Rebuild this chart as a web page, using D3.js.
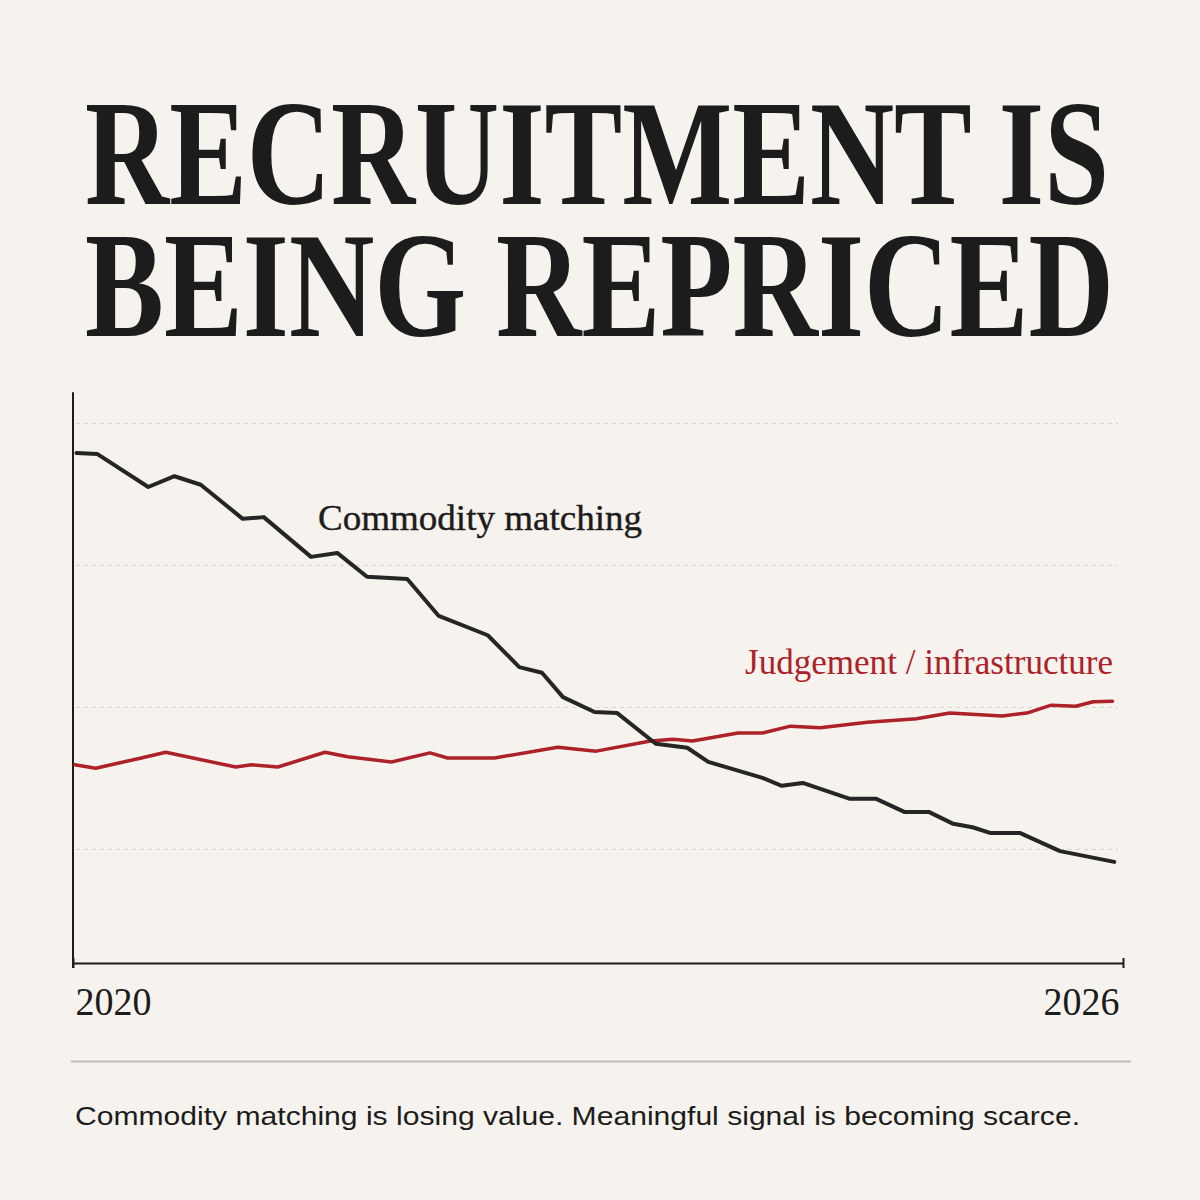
<!DOCTYPE html>
<html>
<head>
<meta charset="utf-8">
<script src="https://cdn.jsdelivr.net/npm/d3@7"></script>
<style>
  html, body { margin: 0; padding: 0; background: #f6f3ee; }
</style>
</head>
<body>
<div id="chart"></div>
<script>
// data (year, index value)
const commodityYears = [2020.02, 2020.14, 2020.43, 2020.58, 2020.73, 2020.97, 2021.09, 2021.36, 2021.51, 2021.68, 2021.91,
  2022.09, 2022.37, 2022.55, 2022.68, 2022.80, 2022.98, 2023.11, 2023.33, 2023.51, 2023.63, 2023.94, 2024.05, 2024.17,
  2024.44, 2024.59, 2024.75, 2024.89, 2025.03, 2025.14, 2025.24, 2025.41, 2025.64, 2025.95];
const commodityValues = [89.8, 89.6, 83.8, 85.7, 84.2, 78.2, 78.5, 71.5, 72.2, 68.0, 67.6,
  61.1, 57.7, 52.1, 51.1, 46.8, 44.2, 44.0, 38.6, 37.9, 35.4, 32.6, 31.2, 31.7,
  28.9, 28.9, 26.6, 26.6, 24.5, 23.9, 22.9, 22.9, 19.7, 17.8];

const judgementYears = [2020.01, 2020.13, 2020.39, 2020.53, 2020.93, 2021.02, 2021.17, 2021.44, 2021.57, 2021.82,
  2022.04, 2022.14, 2022.41, 2022.77, 2022.99, 2023.30, 2023.43, 2023.54, 2023.80, 2023.94, 2024.10, 2024.27,
  2024.54, 2024.82, 2025.01, 2025.31, 2025.45, 2025.59, 2025.73, 2025.83, 2025.94];
const judgementValues = [34.9, 34.3, 36.1, 37.1, 34.5, 34.9, 34.5, 37.1, 36.3, 35.4,
  37.0, 36.1, 36.1, 38.0, 37.3, 39.1, 39.4, 39.1, 40.5, 40.5, 41.7, 41.4,
  42.4, 43.0, 44.0, 43.5, 44.0, 45.4, 45.2, 46.0, 46.1];

const gridValues = [20, 45, 70, 95];
const yearTicks = [2020, 2026];

const titleLines = ["RECRUITMENT IS", "BEING REPRICED"];
const footnote = "Commodity matching is losing value. Meaningful signal is becoming scarce.";

const width = 1200, height = 1200;
const ink = "#1c1c1c", red = "#ad2129";
const serif = "'Liberation Serif', 'DejaVu Serif', serif";

const svg = d3.select("#chart")
  .append("svg")
  .attr("width", width)
  .attr("height", height)
  .attr("viewBox", `0 0 ${width} ${height}`);

svg.append("rect").attr("width", width).attr("height", height).attr("fill", "#f6f3ee");

// headline: measured, then squeezed sideways to the poster width
const titleWidths = [1024, 1029];
titleLines.forEach((t, i) => {
  const g = svg.append("g");
  const txt = g.append("text")
    .style("font-family", serif)
    .style("font-weight", "bold")
    .style("font-size", "151px")
    .attr("fill", ink)
    .text(t);
  const natural = txt.node().getComputedTextLength();
  g.attr("transform", `translate(85,${204 + i * 132}) scale(${titleWidths[i] / natural},1)`);
});

// scales
const x = d3.scaleLinear().domain([2020, 2026]).range([73, 1123]);
const y = d3.scaleLinear().domain([0, 100]).range([963, 395]);

// dashed gridlines
svg.append("g")
  .selectAll("line")
  .data(gridValues)
  .join("line")
  .attr("x1", 76)
  .attr("x2", 1118)
  .attr("y1", d => y(d))
  .attr("y2", d => y(d))
  .attr("stroke", "#d6d2cb")
  .attr("stroke-width", 1)
  .attr("stroke-dasharray", "4,4");

// axes
const xAxis = svg.append("g")
  .attr("transform", `translate(0,${y(0)})`)
  .call(d3.axisBottom(x).tickValues(yearTicks).tickSizeInner(5).tickSizeOuter(0).tickFormat(d3.format("d")));
xAxis.select(".domain").attr("stroke", ink).attr("stroke-width", 2);
xAxis.selectAll(".tick line").attr("stroke", ink).attr("stroke-width", 2).attr("y1", -5);
xAxis.selectAll(".tick text")
  .attr("y", 52)
  .attr("dy", 0)
  .attr("fill", ink)
  .attr("text-anchor", (d, i) => i === 0 ? "start" : "end")
  .attr("dx", (d, i) => i === 0 ? 2 : -4)
  .attr("textLength", 76)
  .attr("lengthAdjust", "spacingAndGlyphs")
  .style("font-family", serif)
  .style("font-size", "40px");

const yAxis = svg.append("g")
  .attr("transform", `translate(${x(2020)},0)`)
  .call(d3.axisLeft(y).tickValues([]).tickSizeOuter(0));
yAxis.select(".domain").attr("stroke", ink).attr("stroke-width", 2)
  .attr("d", `M0,${y(100.5)}V${y(0) + 5}`);

// lines
const line = d3.line()
  .x(d => x(d[0]))
  .y(d => y(d[1]))
  .curve(d3.curveLinear);

const series = [
  { name: "Judgement / infrastructure", years: judgementYears, values: judgementValues, color: red, w: 3.5 },
  { name: "Commodity matching", years: commodityYears, values: commodityValues, color: "#252525", w: 4 }
];

svg.append("g")
  .selectAll("path")
  .data(series)
  .join("path")
  .attr("d", s => line(d3.zip(s.years, s.values)))
  .attr("fill", "none")
  .attr("stroke", s => s.color)
  .attr("stroke-width", s => s.w)
  .attr("stroke-linejoin", "round")
  .attr("stroke-linecap", "round");

// direct labels
svg.append("text")
  .attr("x", 318)
  .attr("y", 530)
  .attr("textLength", 324)
  .attr("lengthAdjust", "spacingAndGlyphs")
  .style("font-family", serif)
  .style("font-size", "35px")
  .attr("fill", ink)
  .attr("stroke", ink)
  .attr("stroke-width", 0.4)
  .text("Commodity matching");

svg.append("text")
  .attr("x", 745)
  .attr("y", 674)
  .attr("textLength", 368)
  .attr("lengthAdjust", "spacingAndGlyphs")
  .style("font-family", serif)
  .style("font-size", "35px")
  .attr("fill", red)
  .text("Judgement / infrastructure");

// rule + footnote
svg.append("line")
  .attr("x1", 71).attr("x2", 1131)
  .attr("y1", 1061.5).attr("y2", 1061.5)
  .attr("stroke", "#bfbbb5")
  .attr("stroke-width", 2);

svg.append("text")
  .attr("x", 75)
  .attr("y", 1125)
  .attr("textLength", 1005)
  .attr("lengthAdjust", "spacingAndGlyphs")
  .style("font-family", "'Liberation Sans', Arial, sans-serif")
  .style("font-size", "26px")
  .attr("fill", ink)
  .text(footnote);
</script>
</body>
</html>
